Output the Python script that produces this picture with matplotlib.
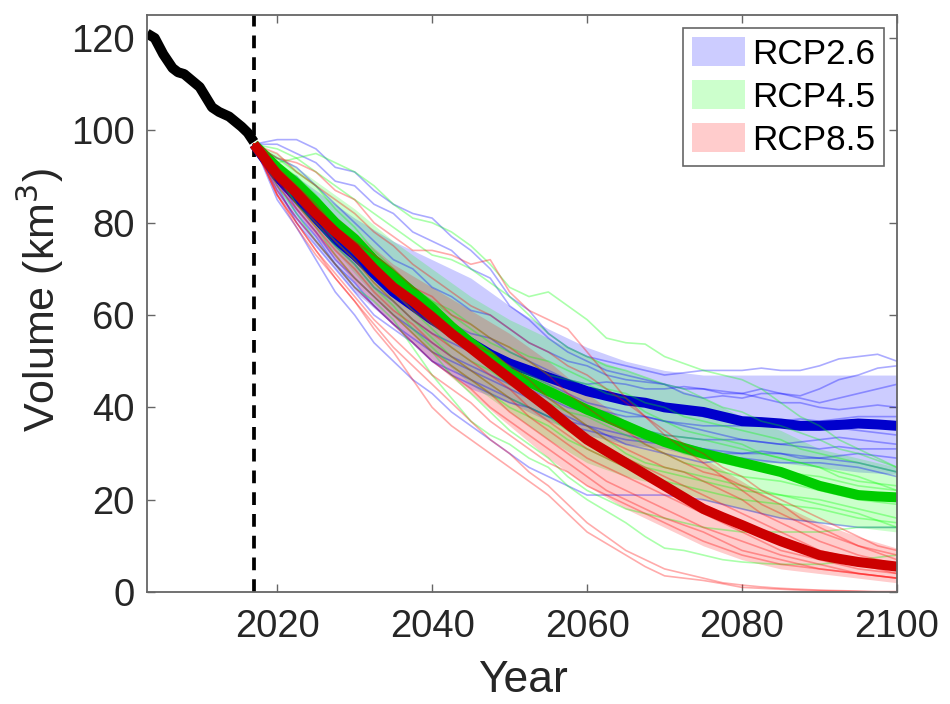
import matplotlib
matplotlib.use('Agg')
import matplotlib.pyplot as plt
from matplotlib.patches import Patch

plt.rcParams['font.family'] = ['Liberation Sans', 'DejaVu Sans']

# Observed volume
hist_years = [2003.2, 2004.2, 2005.3, 2006.5, 2007.2, 2008, 2010, 2011.6, 2012.5, 2013.8, 2015.4, 2016.2, 2017]
hist_vol = [121, 120, 116.5, 113.5, 112.6, 112.2, 109.4, 105, 104, 103, 100.8, 99.5, 97.5]

# Ensemble members and means are read at these years
years = [2017, 2020, 2022.5, 2025, 2027.5, 2030, 2032.5, 2035, 2037.5, 2040, 2042.5, 2045,
         2047.5, 2050, 2052.5, 2055, 2057.5, 2060, 2062.5, 2065, 2067.5, 2070, 2072.5, 2075,
         2077.5, 2080, 2082.5, 2085, 2087.5, 2090, 2092.5, 2095, 2097.5, 2100]

mean26 = [97, 90, 85.5, 81, 76.5, 73, 69, 65, 62, 59, 56.5, 54, 51.5, 49.5, 48, 46.5, 45, 43.5, 42.5, 41.5, 41, 40, 39.5, 39, 38, 37, 36.8, 36.5, 36, 36, 36.2, 36.5, 36.3, 36]
mean45 = [97, 92, 88.5, 84.5, 80, 76.5, 72, 68.5, 65, 61.5, 57.5, 54, 51, 47.5, 45.5, 43.5, 41.5, 39.5, 37.8, 36, 34.2, 32.5, 31.2, 30, 29, 28, 27, 26, 24.5, 23, 22, 21, 20.7, 20.5]
mean85 = [97, 90.5, 86.5, 82, 78, 74.5, 70, 66, 63, 59.6, 56, 52.8, 49.5, 46.3, 43, 39.8, 36.3, 33, 30.5, 28, 25.5, 23, 20.5, 18, 16.2, 14.5, 12.7, 11, 9.5, 8, 7.2, 6.5, 6, 5.5]

band_years = [2017, 2020, 2025, 2030, 2035, 2040, 2045, 2050, 2055, 2060, 2065, 2070, 2075, 2080, 2085, 2090, 2095, 2100]
upper26 = [97, 93, 87, 81, 76, 72, 68, 62, 57, 53, 50, 48, 47, 47, 47, 47, 47, 47]
lower26 = [97, 86, 75, 65, 58, 50, 44, 41, 37, 34, 32, 31, 29, 28, 28, 27, 26, 25.5]
upper45 = [97, 95, 89, 83, 76, 70, 64, 59, 55, 51, 48, 45, 42, 38, 35, 31, 29, 27]
lower45 = [97, 89, 79, 69, 60, 52, 45, 39, 33, 28, 25, 23, 20, 18, 16, 15, 14, 13]
upper85 = [97, 92, 85, 78, 71, 66, 61, 56, 50, 43, 37, 33, 29, 24, 19, 15, 12, 9.5]
lower85 = [97, 88, 77, 67, 58, 50, 43, 36, 29, 23, 18, 14, 10, 7, 5, 4, 3, 2]

lines26 = [
    [97, 98, 98, 96, 92, 91, 87, 84, 82, 81, 77, 74, 70, 64, 61, 56, 53, 51, 50, 49, 48, 47, 47.5, 48, 48, 48, 48.5, 48, 48, 49, 50.5, 51, 51.5, 50],
    [97, 97, 95, 93, 89, 88, 84, 82, 78, 76, 74, 70, 68, 62, 59, 55, 52, 50, 48, 47, 46, 45, 44, 44, 43.5, 43, 44, 43, 42.5, 44, 46, 47, 48.5, 49],
    [97, 94, 92, 88, 84, 80, 76, 72, 70, 66, 64, 61, 60, 57, 54, 52, 50, 49, 47, 46, 45.5, 45, 43, 42, 42.5, 42, 43, 43, 42, 41, 42, 43, 44, 45],
    [97, 92, 90, 85, 79, 75, 70, 66, 63, 60, 58, 56, 55, 52, 50, 48, 46, 45, 45.5, 45, 44, 44, 44.5, 44, 43, 43, 42, 41, 41, 40, 39.5, 40, 40.5, 40],
    [97, 91, 86, 81, 76, 72, 68, 65, 62, 59, 57, 55, 52, 50, 48, 46, 45, 43, 42, 42, 41, 40, 39, 38, 37.5, 37, 37, 37, 37.5, 37, 37.5, 38, 38, 38],
    [97, 90, 85, 80, 75, 71, 66, 63, 59, 56, 54, 52, 49, 47, 45, 43, 41, 40, 39, 38, 38, 37, 36, 35, 34, 33, 32.5, 32, 32.5, 33, 33.5, 33, 32.5, 32],
    [97, 90, 83, 78, 72, 68, 64, 60, 57, 54, 51, 49, 47, 45, 44, 42, 40, 39, 37, 36, 35, 34, 33.5, 33, 33, 33, 32.5, 32, 31.5, 31, 31.5, 31, 31, 31],
    [97, 89, 82, 77, 71, 67, 62, 58, 55, 52, 50, 48, 46, 44, 42, 40, 38, 36, 35, 34, 33, 33, 32, 31, 30.5, 30, 30, 30, 29.5, 29, 29.5, 30, 29.5, 29],
    [97, 88, 80, 75, 70, 65, 60, 57, 54, 50, 47, 45, 43, 41, 40, 38, 36, 35, 34, 33, 32.5, 32, 31.5, 31, 30, 30, 30.5, 30, 29, 29, 28.5, 28, 27, 26],
    [97, 85, 79, 72, 65, 60, 54, 50, 46, 43, 39, 36, 33, 30, 27, 25, 23, 21, 21, 21, 21, 21, 20.5, 20, 19, 18, 17, 16, 15.5, 15, 14.5, 14, 14, 14],
    [97, 87, 81, 76, 71, 66, 62, 58, 54, 50, 48, 46, 44, 42, 40, 38, 37, 36, 34, 32, 31, 30, 29, 28, 28.5, 29, 28.5, 28, 28, 28, 27.5, 27, 26, 25],
    [97, 91, 87, 82, 76, 72, 68, 64, 61, 58, 55, 53, 51, 49, 47, 45, 43, 41, 40, 39, 38, 37, 36.5, 36, 36, 36, 36, 36, 36, 36, 35.5, 35, 34.5, 34],
]
lines45 = [
    [97, 93, 94, 95, 93, 91, 88, 84, 81, 80, 78, 75, 71, 66, 64, 65, 62, 59, 55, 54, 53.7, 51, 49.5, 48, 47, 46, 44, 41, 38, 36, 33, 31, 29, 27],
    [97, 96, 94, 91, 88, 85, 82, 79, 76, 73, 72, 70, 67, 64, 60, 56, 53, 51, 49, 48, 46.5, 45, 44, 42, 40, 39, 37, 36, 34.5, 33, 31, 30, 28.5, 27],
    [97, 94, 91, 88, 83, 79, 74, 70, 66, 63, 61, 58, 55, 53, 51, 50, 48, 46, 44, 43, 41, 40, 38, 37, 36, 35, 34, 33, 31, 30, 29, 28, 27, 26],
    [97, 93, 90, 86, 81, 76, 72, 69, 66, 63, 60, 57, 54, 52, 50, 47, 46, 45, 43, 42, 39, 37, 35, 34, 33, 32, 30, 29, 28, 27, 25, 24, 23.5, 23],
    [97, 92, 89, 85, 80, 76, 72, 68, 64, 60, 57, 54, 51, 49, 47, 45, 42, 40, 38, 37, 35, 34, 33.5, 33, 32, 31, 30, 29, 28, 27, 26, 25, 23.5, 22],
    [97, 92, 88, 84, 79, 75, 70, 66, 62, 59, 55, 52, 50, 47, 45, 43, 41, 39, 37, 35, 33, 32, 30, 29, 28, 27, 26.5, 26, 25.5, 25, 24, 23, 22.5, 22],
    [97, 91, 86, 82, 77, 73, 69, 65, 61, 57, 53, 50, 48, 45, 43, 41, 39, 38, 36, 34, 32, 30, 28, 27, 26, 25, 24.5, 24, 23, 22, 21, 20, 19.5, 19],
    [97, 90, 85, 81, 76, 72, 67, 63, 59, 55, 51, 48, 45, 42, 40, 38, 35, 33, 31, 29, 27, 26, 25, 24, 23, 22, 21.5, 21, 20.5, 20, 19, 18, 17, 16],
    [97, 90, 84, 80, 75, 71, 66, 62, 57, 53, 49, 46, 43, 40, 38, 36, 33, 31, 29, 27, 25, 24, 23, 22, 21, 20, 19.5, 19, 18.5, 18, 17, 16, 15.5, 15],
    [97, 88, 82, 76, 71, 66, 63, 59, 53, 47, 42, 37, 34, 32, 29, 27, 23, 20, 17.5, 15, 12, 9.5, 9, 8, 7, 6.5, 6.2, 6, 6, 6, 6.5, 7, 7.5, 8],
    [97, 90, 84, 79, 73, 68, 64, 60, 56, 52, 47, 43, 39, 35, 32, 29, 25, 22, 20, 18, 17, 16, 15, 14, 13.5, 13, 13, 13, 13, 13, 13.5, 14, 14, 14],
    [97, 91, 87, 83, 78, 74, 69, 65, 62, 58, 55, 53, 50, 47, 45, 42, 39, 36, 33, 30, 28, 27, 26, 25, 24, 23, 22, 21, 20, 19, 18, 17, 15.5, 14],
]
lines85 = [
    [97, 94, 93, 91, 87, 85, 80, 77, 74, 74, 73, 71, 72, 65, 61, 59, 57, 52, 47, 42, 38, 34, 31, 28, 25, 22, 19, 17, 15, 13, 11.5, 10, 9, 8],
    [97, 95, 91, 88, 85, 82, 78, 75, 71, 68, 65, 62, 60, 57, 54, 52, 49, 47, 44, 41, 38, 35, 32, 30, 27, 25, 22, 20, 18, 16, 14, 12, 10, 9],
    [97, 92, 88, 84, 79, 76, 73, 70, 66, 64, 60, 58, 55, 53, 50, 47, 43, 40, 37, 35, 32, 30, 28, 26, 25, 23, 21, 19, 16, 14, 12, 10, 8.5, 7],
    [97, 91, 87, 83, 78, 74, 70, 67, 64, 60, 56, 54, 52, 49, 46, 42, 39, 36, 33, 31, 29, 27, 26, 24, 22, 20, 17, 15, 13, 11, 9.5, 8, 7, 6],
    [97, 90, 86, 82, 77, 73, 69, 65, 61, 58, 55, 52, 49, 45, 42, 39, 36, 33, 31, 29, 27, 25, 23, 21, 19, 17, 15, 13, 11, 9, 8, 7, 6, 5],
    [97, 90, 85, 80, 76, 72, 67, 63, 59, 56, 53, 50, 47, 44, 40, 37, 34, 31, 29, 27, 25, 23, 21, 19, 17, 15, 13, 11, 9.5, 8, 7, 6, 5, 4],
    [97, 89, 84, 79, 74, 70, 65, 61, 58, 54, 51, 48, 45, 42, 38, 35, 32, 29, 27, 25, 23, 21, 19, 17, 15, 13, 11, 9, 8, 7, 6, 5, 4.5, 4],
    [97, 88, 83, 78, 73, 68, 64, 60, 56, 52, 49, 46, 43, 39, 36, 33, 30, 27, 24, 22, 20, 18, 16, 14, 12.5, 11, 9.5, 8, 7, 6, 5, 4, 3.5, 3],
    [97, 87, 81, 76, 71, 66, 62, 58, 54, 50, 47, 44, 40, 37, 34, 31, 28, 25, 22, 20, 18, 16, 14.5, 13, 11, 9, 8, 7, 6, 5, 4.5, 4, 3.5, 3],
    [97, 86, 80, 74, 69, 64, 59, 55, 51, 47, 44, 41, 37, 34, 31, 28, 26, 23, 21, 19, 17, 15, 13, 11, 9.5, 8, 7, 6, 5.5, 5, 4.5, 4, 3.5, 3],
    [97, 86, 79, 73, 68, 63, 57, 52, 46, 40, 36, 33, 30, 27, 24, 21, 17, 13, 10.5, 8, 5.5, 3.5, 3, 2.5, 1.8, 1, 0.8, 0.6, 0.4, 0.3, 0.2, 0.1, 0, 0],
    [97, 86, 80, 74, 68, 63, 58, 53, 49, 45, 41, 37, 33, 30, 26, 23, 19, 15, 12, 9, 7, 5, 4, 3, 2, 1.5, 1.1, 0.8, 0.6, 0.4, 0.3, 0.2, 0.1, 0.1],
]

labels = ['RCP2.6', 'RCP4.5', 'RCP8.5']
x_ticks = [2020, 2040, 2060, 2080, 2100]
y_ticks = [0, 20, 40, 60, 80, 100, 120]

fig = plt.figure(figsize=(9.5, 7.04), dpi=100)
ax = fig.add_axes([147 / 950, 1 - 592 / 704, 750 / 950, 577 / 704])

scenarios = [
    (lines26, lower26, upper26, mean26, '#0000ff', '#0000cc'),
    (lines45, lower45, upper45, mean45, '#00ff00', '#00cc00'),
    (lines85, lower85, upper85, mean85, '#ff0000', '#cc0000'),
]
# drawn in order so later bands tint the earlier means
for members, low, up, mean, col, dark in scenarios:
    for m in members:
        ax.plot(years, m, color=col, alpha=0.33, lw=1.2)
    ax.fill_between(band_years, low, up, color=col, alpha=0.2, lw=0)
    ax.plot(years, mean, color=dark, lw=7.2, solid_capstyle='butt')

ax.plot(hist_years, hist_vol, color='k', lw=7.2, solid_capstyle='butt', zorder=1.9)
ax.axvline(2017, color='k', lw=2.7, dashes=(3.4, 2.4), zorder=1.8)

ax.set_xlim(2003.2, 2100)
ax.set_ylim(0, 125)
ax.set_xticks(x_ticks)
ax.set_yticks(y_ticks)
ax.tick_params(direction='in', top=True, right=True, length=6, width=1, color='#666666',
               labelsize=27.5, labelcolor='#262626')
ax.tick_params(axis='x', pad=12)
ax.tick_params(axis='y', pad=9)
for s in ax.spines.values():
    s.set_color('#666666')
    s.set_linewidth(1.3)
ax.set_xlabel('Year', fontsize=32, color='#262626')
ax.set_ylabel('Volume (km$^3$)', fontsize=31, color='#262626')
ax.xaxis.set_label_coords(0.501, -0.118)
ax.yaxis.set_label_coords(-0.108, 0.506)

handles = [Patch(facecolor=c, edgecolor='none') for c in ['#ccccff', '#ccffcc', '#ffcccc']]
leg = ax.legend(handles, labels, loc='upper right', bbox_to_anchor=(884 / 950, 1 - 28 / 704),
                bbox_transform=fig.transFigure, fontsize=25.3, fancybox=False, framealpha=1,
                edgecolor='#666666', borderaxespad=0, handlelength=1.5, handleheight=0.9,
                labelspacing=0.26, handletextpad=0.2, borderpad=0.26)
leg.get_frame().set_linewidth(1.2)

fig.savefig('out.png', dpi=100)
